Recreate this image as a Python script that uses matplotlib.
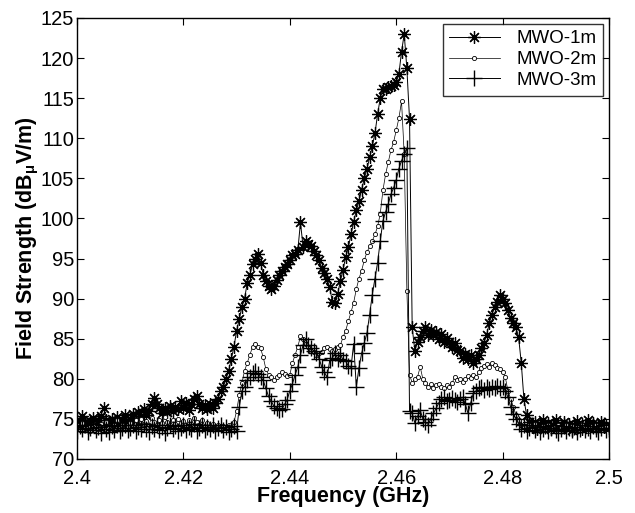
import numpy as np
import matplotlib
matplotlib.use('Agg')
import matplotlib.pyplot as plt

# Frequency sweep (GHz), 201 points from 2.40 to 2.50
freq = np.linspace(2.4, 2.5, 201)

# Field strength (dBuV/m)
mwo_1m = [
    74.8, 74.2, 75.3, 74.6, 73.9, 74.7, 75.1, 74.3, 74.9, 75.4,
    76.4, 74.8, 74.4, 75.0, 74.5, 75.2, 74.1, 74.8, 75.5, 74.7,
    75.0, 75.6, 74.9, 75.8, 75.3, 76.2, 75.5, 76.0, 76.8, 77.6,
    76.9, 76.3, 75.7, 76.4, 75.9, 76.6, 76.0, 76.5, 76.2, 77.2,
    76.4, 77.0, 76.1, 76.8, 77.5, 77.9, 76.9, 76.3, 76.7, 76.2,
    76.8, 76.4, 77.0, 77.5, 78.5, 79.0, 80.0, 81.0, 82.5, 84.0,
    86.0, 87.5, 89.0, 90.0, 92.0, 93.0, 94.3, 95.0, 95.6, 94.5,
    93.0, 92.2, 91.6, 91.2, 91.6, 92.3, 93.0, 93.4, 94.0, 94.3,
    94.8, 95.4, 95.6, 96.0, 99.5, 96.4, 97.2, 96.8, 96.5, 95.9,
    95.5, 94.8, 93.8, 93.2, 92.4, 91.4, 89.6, 89.4, 90.6, 92.2,
    93.6, 95.2, 96.4, 98.0, 99.6, 101.0, 102.2, 103.6, 105.0, 106.2,
    107.6, 109.0, 110.6, 113.0, 115.0, 116.1, 116.2, 116.4, 116.5, 116.7,
    117.0, 118.0, 120.8, 123.0, 118.7, 112.4, 86.4, 83.5, 84.6, 85.2,
    86.0, 86.4, 85.4, 86.1, 85.5, 85.8, 85.0, 85.6, 84.6, 85.1,
    84.6, 84.0, 84.5, 83.6, 83.5, 82.6, 83.1, 82.5, 83.0, 82.0,
    82.5, 83.0, 83.8, 84.5, 85.5, 87.0, 88.0, 89.0, 89.6, 90.5,
    90.0, 89.4, 88.6, 87.6, 87.0, 86.4, 85.2, 82.0, 77.5, 75.5,
    74.6, 74.0, 74.6, 73.8, 74.4, 74.9, 74.1, 74.5, 73.7, 74.3,
    74.8, 74.2, 73.9, 74.6, 74.0, 74.4, 73.6, 74.2, 74.7, 74.0,
    73.8, 74.3, 74.8, 74.1, 74.5, 73.9, 74.2, 74.6, 74.0, 74.3,
    73.9,
]

mwo_2m = [
    74.2, 73.6, 74.5, 73.9, 74.1, 73.5, 74.3, 74.0, 73.7, 74.4,
    73.8, 74.6, 74.1, 73.6, 74.2, 74.8, 73.9, 74.3, 73.7, 74.0,
    74.5, 74.1, 74.8, 74.3, 75.0, 74.4, 74.7, 74.2, 75.1, 74.6,
    74.3, 74.9, 74.5, 75.2, 74.6, 74.2, 74.8, 74.4, 75.0, 74.5,
    74.7, 74.2, 74.9, 74.4, 75.1, 74.6, 74.3, 74.8, 74.1, 74.5,
    74.0, 74.4, 73.8, 74.2, 73.7, 74.1, 73.9, 74.3, 74.0, 74.6,
    76.0, 78.0, 79.5, 81.0, 82.0, 83.0, 84.0, 84.4, 84.0, 83.8,
    82.7, 81.2, 80.5, 80.2, 79.8, 80.2, 80.5, 80.8, 80.6, 80.3,
    80.5, 82.0, 83.0, 84.0, 85.3, 85.0, 84.4, 84.0, 83.5, 83.3,
    83.0, 83.2, 83.4, 83.8, 84.0, 83.7, 83.5, 83.7, 84.0, 84.2,
    85.2, 86.0, 87.2, 88.3, 89.5, 91.2, 92.5, 93.5, 94.8, 95.8,
    96.5, 97.2, 98.0, 99.0, 100.6, 103.5, 105.5, 107.0, 108.5, 109.5,
    111.0, 112.5, 114.6, 108.0, 91.0, 80.5, 79.5, 80.0, 80.2, 81.5,
    80.0, 79.5, 79.0, 79.3, 78.8, 79.2, 79.4, 79.0, 78.8, 79.2,
    79.0, 79.5, 80.2, 79.8, 80.0, 79.6, 80.0, 80.3, 80.1, 80.5,
    80.2, 80.8, 81.4, 81.6, 81.9, 81.5, 82.0, 81.7, 81.4, 81.2,
    80.8, 80.2, 78.5, 77.5, 76.5, 75.5, 74.8, 74.3, 74.0, 73.6,
    74.2, 73.8, 74.4, 73.9, 73.5, 74.1, 73.7, 74.3, 73.8, 74.0,
    73.5, 74.2, 73.9, 73.6, 74.3, 73.8, 74.1, 73.7, 74.0, 73.6,
    74.2, 73.9, 73.5, 74.1, 73.8, 74.3, 73.7, 74.0, 73.8, 74.1,
    73.7,
]

mwo_3m = [
    73.5, 74.1, 73.7, 74.3, 73.4, 73.9, 74.4, 73.6, 74.0, 73.3,
    74.2, 73.8, 73.4, 74.1, 73.6, 74.3, 73.5, 73.9, 74.2, 73.6,
    73.9, 74.3, 73.5, 74.0, 73.7, 74.4, 73.8, 73.4, 74.1, 73.7,
    74.2, 73.6, 74.0, 73.3, 73.9, 74.3, 73.7, 74.1, 73.5, 73.9,
    74.3, 73.6, 74.0, 73.8, 74.4, 73.5, 73.9, 74.2, 73.6, 74.0,
    73.7, 74.2, 73.5, 73.9, 74.3, 73.6, 74.0, 73.4, 73.8, 74.1,
    73.5, 76.5, 78.5, 79.0, 79.8, 80.2, 80.7, 81.0, 80.6, 80.2,
    79.8, 78.8, 77.8, 77.2, 76.6, 76.4, 76.1, 76.2, 76.8, 77.4,
    78.5, 79.4, 80.5, 81.5, 83.0, 84.2, 85.0, 84.2, 83.8, 83.5,
    83.2, 82.5, 81.5, 80.8, 80.2, 82.3, 82.6, 83.2, 82.5, 83.0,
    82.4, 82.2, 81.6, 81.4, 84.4, 79.0, 81.4, 83.2, 84.5, 85.7,
    88.0, 90.5, 92.5, 94.5, 97.2, 99.7, 100.8, 101.8, 103.0, 103.8,
    104.8, 106.2, 107.2, 108.0, 108.8, 76.0, 75.7, 74.5, 75.3, 76.1,
    75.0, 74.6, 74.3, 75.0, 75.7, 76.3, 77.0, 77.5, 77.7, 77.2,
    77.3, 77.6, 77.3, 77.1, 77.5, 77.7, 76.8, 75.7, 77.0, 78.2,
    78.5, 78.8, 79.0, 78.6, 79.0, 78.7, 79.0, 78.8, 79.1, 78.8,
    79.0, 78.5, 77.7, 76.5, 75.6, 75.0, 74.4, 73.8, 74.2, 73.5,
    73.9, 74.3, 73.6, 74.0, 73.4, 73.8, 74.1, 73.5, 73.9, 74.2,
    73.6, 73.3, 73.8, 74.1, 73.5, 73.9, 73.6, 74.0, 73.4, 73.8,
    74.2, 73.6, 73.9, 73.5, 74.1, 73.7, 73.4, 73.9, 74.2, 73.6,
    73.8,
]

plt.rcParams['font.family'] = ['Liberation Sans', 'DejaVu Sans']
plt.rcParams['mathtext.fontset'] = 'custom'
plt.rcParams['mathtext.rm'] = 'Liberation Sans'
plt.rcParams['mathtext.bf'] = 'Liberation Sans:bold'

fig = plt.figure(figsize=(6.35, 5.13), dpi=100)
ax = fig.add_axes([0.1213, 0.1053, 0.8378, 0.8597])

# asterisk marker like matlab '*'
ast = (8, 2, 0)
ax.plot(freq, mwo_1m, color='black', lw=0.7, marker=ast, ms=9, mew=0.9, label='MWO-1m')
ax.plot(freq, mwo_2m, color='black', lw=0.5, marker='o', ms=3, mfc='white', mew=0.6, label='MWO-2m')
ax.plot(freq, mwo_3m, color='black', lw=0.7, marker='+', ms=11, mew=1.0, label='MWO-3m')

ax.set_xlim(2.4, 2.5)
ax.set_ylim(70, 125)
ax.set_xticks([2.4, 2.42, 2.44, 2.46, 2.48, 2.5])
ax.set_xticklabels(['2.4', '2.42', '2.44', '2.46', '2.48', '2.5'])
ax.set_yticks(np.arange(70, 126, 5))
ax.tick_params(direction='in', top=True, right=True, length=5, labelsize=14.5, pad=2)
ax.tick_params(axis='x', pad=7)
for s in ax.spines.values():
    s.set_linewidth(1.0)

ax.set_xlabel('Frequency (GHz)', fontsize=15.5, fontweight='bold', labelpad=-1)
ax.set_ylabel(r'Field Strength (dB$_{\mathbf{\mu}}$V/m)', fontsize=15.5, fontweight='bold', labelpad=0)

leg = ax.legend(loc='upper right', fontsize=13.5, frameon=True, fancybox=False,
                edgecolor='black', borderaxespad=0.3, handlelength=2.7,
                handletextpad=0.9, labelspacing=0.2, borderpad=0.35)
leg.get_frame().set_linewidth(1.0)

plt.savefig('out.png', dpi=100)
